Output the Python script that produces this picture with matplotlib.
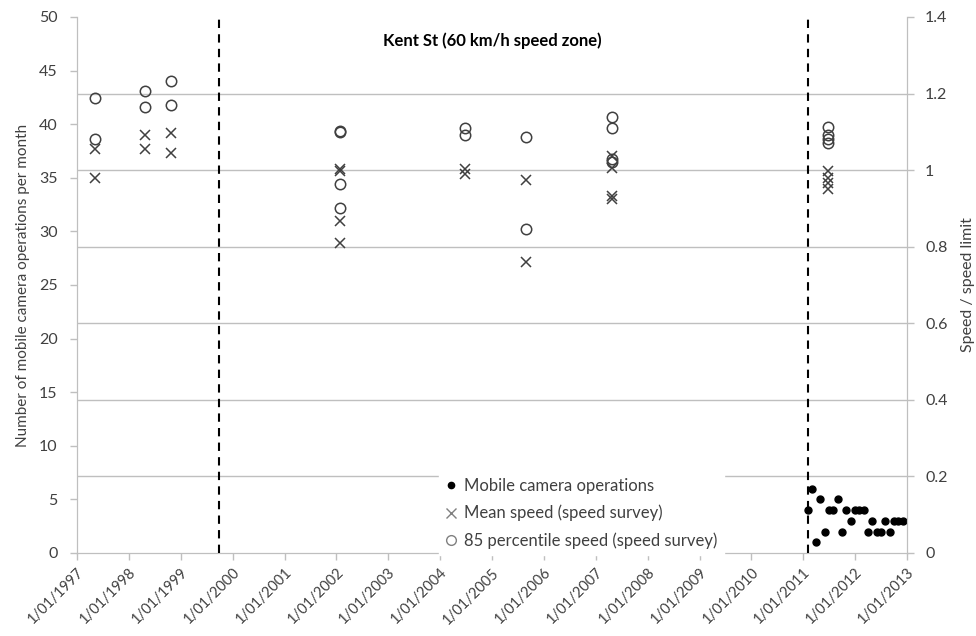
import matplotlib
matplotlib.use("Agg")
import matplotlib.pyplot as plt
from matplotlib.lines import Line2D
from datetime import datetime

plt.rcParams['font.family'] = ['Lato', 'DejaVu Sans']

# ---- data ----
# Mobile camera operations per month (left axis)
ops_months = ["2011-02", "2011-03", "2011-04", "2011-05", "2011-06", "2011-07", "2011-08",
              "2011-09", "2011-10", "2011-11", "2011-12", "2012-01", "2012-02", "2012-03",
              "2012-04", "2012-05", "2012-06", "2012-07", "2012-08", "2012-09", "2012-10",
              "2012-11", "2012-12"]
ops_values = [4, 6, 1, 5, 2, 4, 4, 5, 2, 4, 3, 4, 4, 4, 2, 3, 2, 2, 3, 2, 3, 3, 3]

# Speed surveys (right axis, speed / speed limit)
survey_dates = ["1997-05-08", "1998-04-26", "1998-10-23", "2002-01-27",
                "2004-06-28", "2005-08-29", "2007-04-23", "2011-06-28"]
mean_speed = [
    [1.055, 0.979],
    [1.091, 1.054],
    [1.096, 1.046],
    [1.002, 0.997, 0.867, 0.809],
    [1.003, 0.991],
    [0.974, 0.759],
    [1.037, 1.006, 0.932, 0.924],
    [0.997, 0.980, 0.967, 0.952],
]
p85_speed = [
    [1.188, 1.081],
    [1.207, 1.165],
    [1.232, 1.171],
    [1.103, 1.100, 0.963, 0.902],
    [1.110, 1.093],
    [1.087, 0.847],
    [1.140, 1.110, 1.028, 1.022],
    [1.112, 1.092, 1.082, 1.070],
]

# Vertical dashed markers
event_dates = ["1999-10-01", "2011-02-01"]

year_ticks = list(range(1997, 2014))
left_ticks = list(range(0, 51, 5))
right_ticks = [0, 0.2, 0.4, 0.6, 0.8, 1, 1.2, 1.4]
right_tick_labels = ["0", "0.2", "0.4", "0.6", "0.8", "1", "1.2", "1.4"]

title = "Kent St (60 km/h speed zone)"
left_label = "Number of mobile camera operations per month"
right_label = "Speed / speed limit"
legend_labels = ['Mobile camera operations', 'Mean speed (speed survey)',
                 '85 percentile speed (speed survey)']

# ---- figure ----
fig = plt.figure(figsize=(9.76, 6.36), dpi=100)
ax = fig.add_axes([77/976, 83/636, 830/976, 536/636])
ax2 = ax.twinx()

grey = '#bfbfbf'
txt = '#404040'
mk = '#404040'

ops_x = [datetime.strptime(m + "-01", "%Y-%m-%d") for m in ops_months]
ax.plot(ops_x, ops_values, linestyle='none', marker='o', markersize=5,
        color='black', zorder=5)

for d, ms, ps in zip(survey_dates, mean_speed, p85_speed):
    dt = datetime.strptime(d, "%Y-%m-%d")
    ax2.plot([dt] * len(ms), ms, linestyle='none', marker='x', markersize=7.5,
             markeredgewidth=1.1, color=mk, zorder=5)
    ax2.plot([dt] * len(ps), ps, linestyle='none', marker='o', markersize=7.5,
             markerfacecolor='none', markeredgewidth=1.1, markeredgecolor=mk, zorder=5)

for d in event_dates:
    ax2.axvline(datetime.strptime(d, "%Y-%m-%d"), color='black', linewidth=1.5,
                linestyle=(0, (4, 3)), zorder=4)

ax.set_xlim(datetime(1997, 1, 1), datetime(2013, 1, 1))
ax.set_ylim(0, 50)
ax2.set_ylim(0, 1.4)

xt = [datetime(y, 1, 1) for y in year_ticks]
ax.set_xticks(xt)
ax.set_xticklabels([f"1/01/{y}" for y in year_ticks], rotation=45, ha='right',
                   va='top', rotation_mode='anchor')
ax.set_yticks(left_ticks)
ax2.set_yticks(right_ticks)
ax2.set_yticklabels(right_tick_labels)

ax2.grid(axis='y', color=grey, linewidth=1)
ax2.set_axisbelow(True)
for gl, v in zip(ax2.get_ygridlines(), right_ticks):
    if v == 1.4 or v == 0:
        gl.set_visible(False)

for a in (ax, ax2):
    a.spines['top'].set_visible(False)
    for s in ('left', 'right', 'bottom'):
        a.spines[s].set_color(grey)
    a.tick_params(axis='both', colors=grey, labelcolor=txt, labelsize=10.5, length=5, width=1)
ax.tick_params(axis='y', labelsize=11.5, pad=9)
ax2.tick_params(axis='y', labelsize=11.5, pad=8)
ax.tick_params(axis='x', pad=4)

ax.set_ylabel(left_label, fontsize=11, color=txt, labelpad=6)
ax2.set_ylabel(right_label, fontsize=11.5, color=txt, labelpad=10)

ax2.text(0.5, 0.955, title, transform=ax2.transAxes, ha='center', va='center',
         fontsize=12, fontweight='bold', color='black')

h_mean = Line2D([], [], linestyle='none', marker='x', markersize=7.5, markeredgewidth=1,
                color='#808080')
h_p85 = Line2D([], [], linestyle='none', marker='o', markersize=7, markerfacecolor='none',
               markeredgewidth=1, markeredgecolor='#808080')
h_ops = Line2D([], [], linestyle='none', marker='o', markersize=4.5, color='black')
leg = ax2.legend([h_ops, h_mean, h_p85], legend_labels,
                 loc='upper left', bbox_to_anchor=(431/976, 1 - 463/636),
                 bbox_transform=fig.transFigure, frameon=True, fancybox=False,
                 edgecolor='white', facecolor='white', framealpha=1,
                 fontsize=12, handlelength=0.6, handletextpad=0.45,
                 labelspacing=0.65, borderpad=0.4, labelcolor=txt)
leg.set_zorder(10)

fig.savefig("out.png", dpi=100)
